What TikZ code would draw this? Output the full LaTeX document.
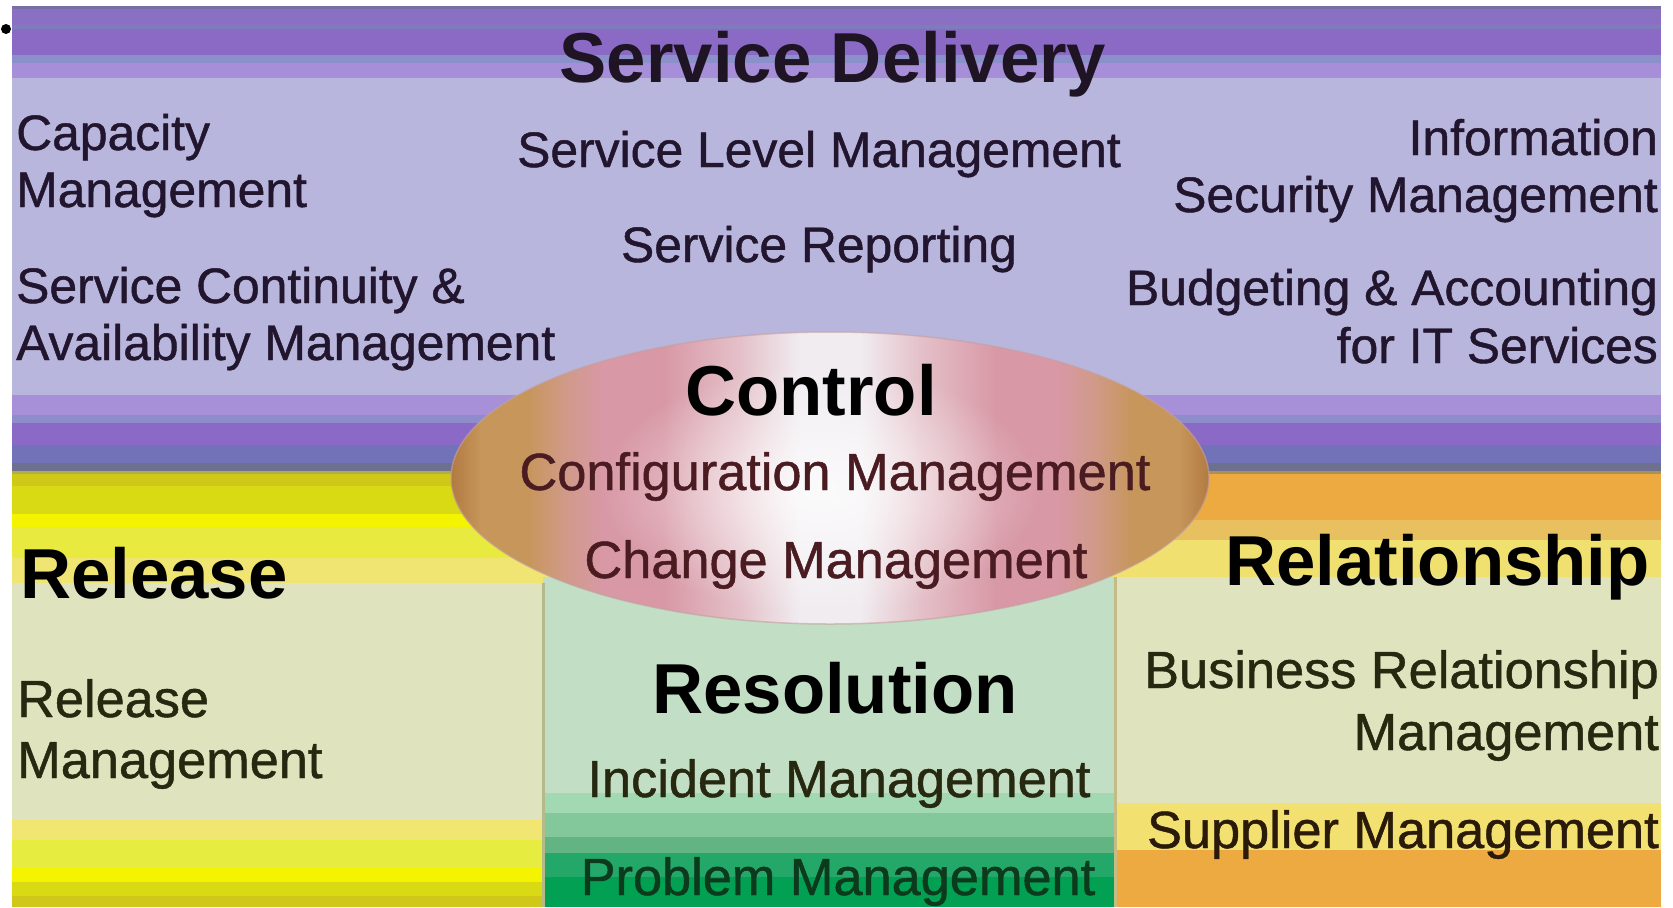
\documentclass[tikz,border=0pt]{standalone}
\usepackage{fontspec}
\setmainfont{Liberation Sans}
\newfontfamily\medsans{Liberation Sans}[FakeBold=0.9]
\usetikzlibrary{fadings}
\tikzfading[name=glowfade, inner color=transparent!0, outer color=transparent!100]
\definecolor{goldA}{HTML}{B27A42}
\definecolor{goldB}{HTML}{C6965A}
\definecolor{goldP}{HTML}{D09A88}
\definecolor{pinkA}{HTML}{D898A6}
\definecolor{pinkB}{HTML}{E4C0C8}
\definecolor{whiteA}{HTML}{F0ECF0}
\pgfdeclarehorizontalshading{ctrlshade}{100bp}{color(0bp)=(goldA); color(25bp)=(goldA); color(27bp)=(goldB); color(30bp)=(goldB); color(32.5bp)=(goldP); color(35bp)=(pinkA); color(39bp)=(pinkA); color(44bp)=(pinkB); color(48bp)=(whiteA); color(52bp)=(whiteA); color(56bp)=(pinkB); color(61bp)=(pinkA); color(65bp)=(pinkA); color(67.5bp)=(goldP); color(70bp)=(goldB); color(73bp)=(goldB); color(75bp)=(goldA); color(100bp)=(goldA)}
\definecolor{txtP}{HTML}{22162E}
\definecolor{txtH}{HTML}{1E1424}
\definecolor{txtC}{HTML}{4A1C22}
\definecolor{txtL}{HTML}{262810}
\definecolor{txtG}{HTML}{0C3A1C}
\definecolor{txtO}{HTML}{2A1A0A}
\definecolor{divL}{HTML}{B4BA8A}
\definecolor{divR}{HTML}{C4BC84}
\definecolor{ctlEdge}{HTML}{C4A0A0}
\tikzset{
  head/.style={inner sep=0pt, font=\fontsize{71}{80}\selectfont\bfseries, text=black},
  subtop/.style={inner sep=0pt, font=\medsans\fontsize{50}{60}\selectfont, text=txtP},
  sublow/.style={inner sep=0pt, font=\medsans\fontsize{52.5}{60}\selectfont, text=txtL},
  subctl/.style={inner sep=0pt, font=\medsans\fontsize{52.5}{60}\selectfont, text=txtC},
}
\newcommand\bandfill[5]{\definecolor{bandcol}{HTML}{#1}\fill[bandcol] (#2,#3) rectangle (#4,#5);}
\begin{document}
\begin{tikzpicture}[x=1bp, y=-1bp]
\useasboundingbox (0,0) rectangle (1673,907);
\fill[white] (0,0) rectangle (1673,907);
% bullet
\fill[black] (6,29) circle (5bp);
% purple band
\bandfill{7A6EA6}{12}{6}{1661}{9}
\bandfill{8A70C2}{12}{9}{1661}{25}
\bandfill{7E7CBA}{12}{25}{1661}{29}
\bandfill{8B6AC6}{12}{29}{1661}{55}
\bandfill{8C90CA}{12}{55}{1661}{63}
\bandfill{A68FD8}{12}{63}{1661}{78}
\bandfill{B9B6DE}{12}{78}{1661}{395}
\bandfill{A890D8}{12}{395}{1661}{415}
\bandfill{8E8CCA}{12}{415}{1661}{423}
\bandfill{8A6AC6}{12}{423}{1661}{445}
\bandfill{7272B8}{12}{445}{1661}{463}
\bandfill{6E7090}{12}{463}{1661}{471}
% left (release) panel
\bandfill{B0B040}{12}{471}{830}{474}
\bandfill{D0C818}{12}{474}{830}{486}
\bandfill{DADA14}{12}{486}{830}{514}
\bandfill{F4F400}{12}{514}{830}{527}
\bandfill{E8EA40}{12}{527}{830}{558}
\bandfill{F0E472}{12}{558}{830}{583}
\bandfill{E0E4BE}{12}{583}{543}{820}
\bandfill{F2E672}{12}{820}{543}{840}
\bandfill{E6EC40}{12}{840}{543}{868}
\bandfill{F4F400}{12}{868}{543}{882}
\bandfill{DADA14}{12}{882}{543}{896}
\bandfill{D0C818}{12}{896}{543}{907}
% right (relationship) panel
\bandfill{B09050}{830}{471}{1661}{474}
\bandfill{ECAA40}{830}{474}{1661}{520}
\bandfill{E8C060}{830}{520}{1661}{540}
\bandfill{F0E070}{830}{540}{1661}{577}
\bandfill{E0E4BE}{1115}{577}{1661}{803}
\bandfill{F2E070}{1115}{803}{1661}{850}
\bandfill{ECAA40}{1115}{850}{1661}{907}
% middle (resolution) panel
\bandfill{C2DEC4}{543}{577}{1115}{793}
\bandfill{A2D8B2}{543}{793}{1115}{813}
\bandfill{82C89A}{543}{813}{1115}{837}
\bandfill{62B482}{543}{837}{1115}{853}
\bandfill{24A86A}{543}{853}{1115}{877}
\bandfill{02A052}{543}{877}{1115}{907}
\draw[line width=3bp, divL] (543,583) -- (543,907);
\draw[line width=3bp, divR] (1115,577) -- (1115,907);
% control ellipse
\shade[shading=ctrlshade] (830,478) ellipse (379bp and 146bp);
\fill[white, opacity=0.8, path fading=glowfade] (820,490) ellipse (220bp and 125bp);
\draw[line width=1.5bp, ctlEdge, opacity=0.6] (830,478) ellipse (379bp and 146bp);
% texts: service delivery
\node[head, text=txtH, anchor=base] (sd) at (833,82) {Service Delivery};
\node[subtop, anchor=base] (slm) at (819,167) {Service Level Management};
\node[subtop, anchor=base] (sr) at (819,262) {Service Reporting};
\node[subtop, anchor=base west] (cap1) at (16,150) {Capacity};
\node[subtop, anchor=base west] (cap2) at (16,207) {Management};
\node[subtop, anchor=base west] (scm1) at (16,303) {Service Continuity \&};
\node[subtop, anchor=base west] (scm2) at (16,360) {Availability Management};
\node[subtop, anchor=base east] (ism1) at (1658,155) {Information};
\node[subtop, anchor=base east] (ism2) at (1658,212) {Security Management};
\node[subtop, anchor=base east] (baa1) at (1658,305) {Budgeting \& Accounting};
\node[subtop, anchor=base east] (baa2) at (1658,363) {for IT Services};
% control
\node[head, anchor=base] (ctl) at (811,415) {Control};
\node[subctl, anchor=base] (cfg) at (835,490) {Configuration Management};
\node[subctl, anchor=base] (chg) at (836,578) {Change Management};
% release
\node[head, anchor=base west] (rel) at (20,598) {Release};
\node[sublow, anchor=base west] (rm1) at (17,717) {Release};
\node[sublow, anchor=base west] (rm2) at (17,778) {Management};
% resolution
\node[head, anchor=base] (res) at (835,713) {Resolution};
\node[sublow, anchor=base] (inc) at (839,797) {Incident Management};
\node[sublow, text=txtG, anchor=base] (prb) at (838,895) {Problem Management};
% relationship
\node[head, anchor=base east] (rsh) at (1650,585) {Relationship};
\node[sublow, anchor=base east] (brm1) at (1659,688) {Business Relationship};
\node[sublow, anchor=base east] (brm2) at (1659,750) {Management};
\node[sublow, text=txtO, anchor=base east] (sup) at (1659,848) {Supplier Management};
\end{tikzpicture}
\end{document}
